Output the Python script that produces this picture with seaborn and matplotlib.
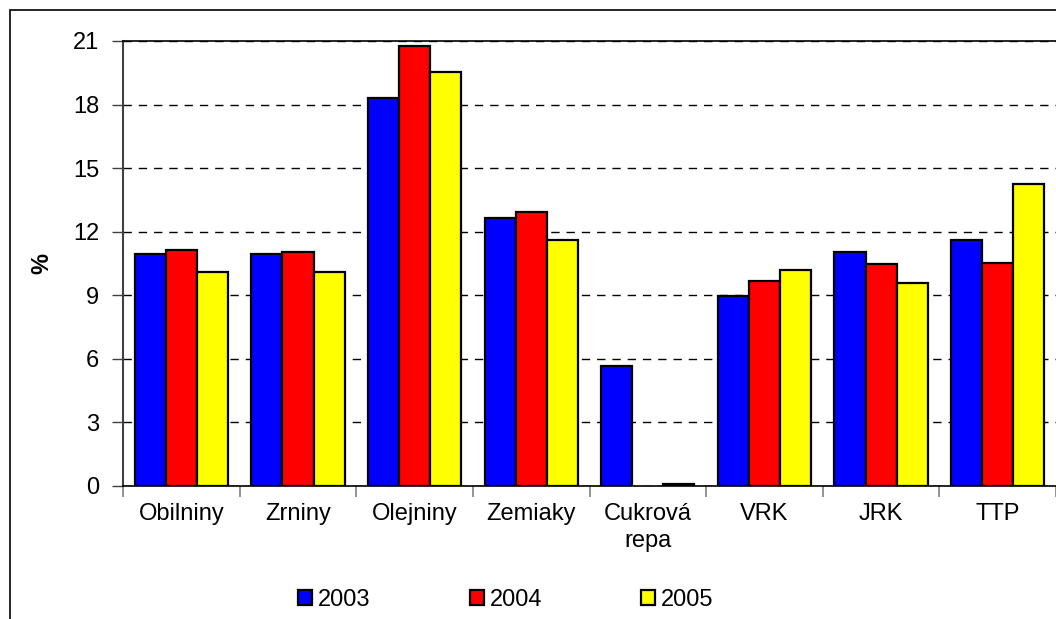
#!/usr/bin/env python3
"""Grouped bar chart: share (%) by crop group, 2003-2005."""

import matplotlib
matplotlib.use("Agg")
import matplotlib.pyplot as plt
from matplotlib.patches import Rectangle
import numpy as np
import pandas as pd
import seaborn as sns

CATEGORIES = ["Obilniny", "Zrniny", "Olejniny", "Zemiaky", "Cukrová\nrepa",
              "VRK", "JRK", "TTP"]
YEARS = ["2003", "2004", "2005"]
VALUES_2003 = [10.93, 10.93, 18.3, 12.63, 5.65, 8.95, 11.03, 11.6]
VALUES_2004 = [11.12, 11.04, 20.75, 12.92, np.nan, 9.69, 10.46, 10.54]
VALUES_2005 = [10.08, 10.08, 19.52, 11.6, 0.08, 10.18, 9.6, 14.24]
COLORS = ["#0000FF", "#FF0000", "#FFFF00"]
Y_TICKS = [0, 3, 6, 9, 12, 15, 18, 21]

FS = 17


def main():
    rows = []
    for year, vals in zip(YEARS, [VALUES_2003, VALUES_2004, VALUES_2005]):
        for cat, v in zip(CATEGORIES, vals):
            rows.append({"Plodina": cat, "Rok": year, "%": v})
    df = pd.DataFrame(rows)

    sns.set_style("white")
    plt.rcParams["font.family"] = ["Liberation Sans", "DejaVu Sans"]
    plt.rcParams["text.color"] = "black"
    plt.rcParams["axes.labelcolor"] = "black"
    plt.rcParams["xtick.labelcolor"] = "black"
    plt.rcParams["ytick.labelcolor"] = "black"

    fig = plt.figure(figsize=(10.56, 6.19), dpi=100)
    ax = fig.add_axes([0.1165, 0.2149, 0.8835, 0.7189])

    sns.barplot(
        data=df, x="Plodina", y="%", hue="Rok",
        order=CATEGORIES, hue_order=YEARS, palette=COLORS,
        edgecolor="black", linewidth=1.6, width=0.8,
        errorbar=None, saturation=1, ax=ax,
    )

    ax.set_ylim(0, 21)
    ax.set_yticks(Y_TICKS)
    ax.set_xlim(-0.5, len(CATEGORIES) - 0.5)
    ax.yaxis.grid(True, color="black", linestyle=(0, (6, 5)), linewidth=1)
    ax.set_axisbelow(True)

    # tick marks sit between the groups, labels at the group centres
    ax.set_xticks(np.arange(len(CATEGORIES) + 1) - 0.5, minor=True)
    ax.tick_params(axis="x", which="major", length=0, pad=12, labelsize=FS)
    ax.tick_params(axis="x", which="minor", length=8, width=1.2, color="#808080",
                   direction="out", bottom=True)
    ax.tick_params(axis="y", length=8, width=1, color="#404040", direction="out",
                   left=True, labelsize=FS, pad=9)
    for lbl in ax.get_xticklabels():
        lbl.set_linespacing(1.3)

    ax.set_xlabel("")
    ax.set_ylabel("%", fontsize=FS, fontweight="bold")
    ax.yaxis.set_label_coords(-0.075, 0.5)

    for side in ["top", "bottom"]:
        ax.spines[side].set_color("black")
        ax.spines[side].set_linewidth(1.2)
    ax.spines["left"].set_color("#404040")
    ax.spines["left"].set_linewidth(1.5)
    ax.spines["right"].set_visible(False)

    handles, labels = ax.get_legend_handles_labels()
    ax.get_legend().remove()
    fig.legend(handles, labels, loc="center", bbox_to_anchor=(0.479, 0.031),
               ncol=3, frameon=False, fontsize=FS, handlelength=0.6,
               handleheight=0.6, handletextpad=0.25, columnspacing=4.2)

    # outer chart frame
    fig.patches.append(Rectangle((10 / 1056, -0.2), 1.5, 0.2 + (1 - 10 / 619),
                                 transform=fig.transFigure, fill=False,
                                 edgecolor="black", linewidth=1.2))

    fig.savefig("out.png", dpi=100)
    plt.close(fig)


if __name__ == "__main__":
    main()
